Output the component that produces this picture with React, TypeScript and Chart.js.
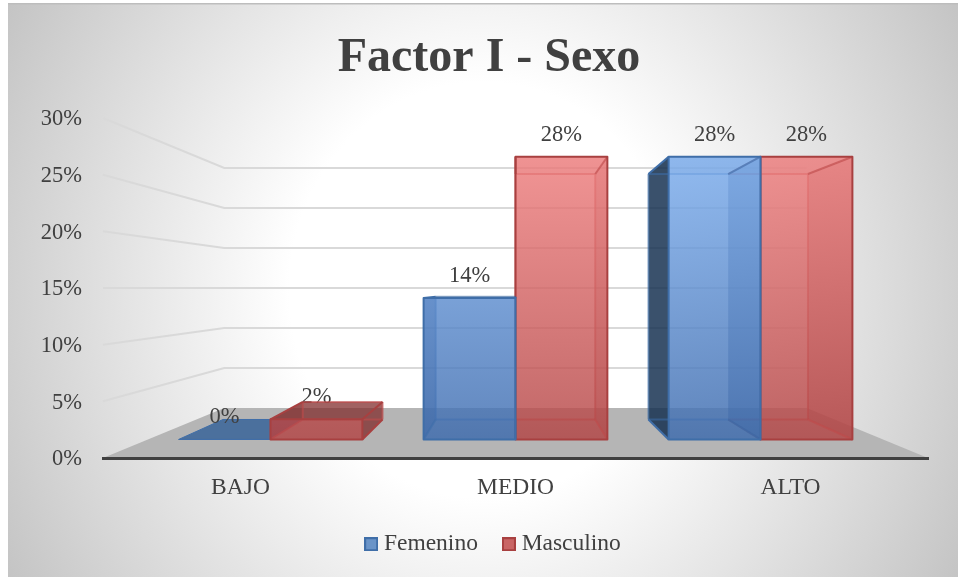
import React, { useEffect, useRef } from "react";
import { Chart, registerables } from "chart.js";

Chart.register(...registerables);

const categories = ["BAJO", "MEDIO", "ALTO"];
const femenino = [0, 14, 28];
const masculino = [2, 28, 28];
const yTicksMax = 30;
const yTickStep = 5;
const chartTitle = "Factor I - Sexo";

const FONT = "'Liberation Serif', serif";
const TEXT = "#404040";
// Perspective of the original 3-D chart: vanishing point and depth scales
const VP = { x: 515.4, y: 288 };
const WALL = 0.706;
const BAR_FRONT = 0.891;
const BAR_BACK = 0.7735;

type Look = {
  legendFill: string; edge: string; inner: string; outer: string; innerFace: string;
  frontTop: string; frontBottom: string; sideAlpha: number;
};
const looks: Look[] = [
  {
    legendFill: "#6a94c8", edge: "#3f6ea8", inner: "rgba(60,110,170,0.55)",
    outer: "rgba(20,48,80,0.84)", innerFace: "rgba(30,60,110,0.45)",
    frontTop: "rgba(122,172,237,0.82)", frontBottom: "rgba(62,108,175,0.82)", sideAlpha: 0.06,
  },
  {
    legendFill: "#c96565", edge: "#a84040", inner: "rgba(190,75,75,0.65)",
    outer: "rgba(130,45,45,0.75)", innerFace: "rgba(120,30,30,0.28)",
    frontTop: "rgba(238,125,125,0.82)", frontBottom: "rgba(180,70,70,0.82)", sideAlpha: 0.04,
  },
];

const P = (x: number, y: number, s: number): [number, number] => [
  VP.x + (x - VP.x) * s,
  VP.y + (y - VP.y) * s,
];

function poly(ctx: CanvasRenderingContext2D, pts: [number, number][], fill?: any, stroke?: string, lw = 2) {
  ctx.beginPath();
  pts.forEach((p, i) => (i ? ctx.lineTo(p[0], p[1]) : ctx.moveTo(p[0], p[1])));
  ctx.closePath();
  if (fill) {
    ctx.fillStyle = fill;
    ctx.fill();
  }
  if (stroke) {
    ctx.strokeStyle = stroke;
    ctx.lineWidth = lw;
    ctx.lineJoin = "round";
    ctx.stroke();
  }
}

function seg(ctx: CanvasRenderingContext2D, a: [number, number], b: [number, number], color: string, lw = 2) {
  ctx.beginPath();
  ctx.moveTo(a[0], a[1]);
  ctx.lineTo(b[0], b[1]);
  ctx.strokeStyle = color;
  ctx.lineWidth = lw;
  ctx.stroke();
}

function legendSwatch(fill: string, edge: string) {
  const c = document.createElement("canvas");
  c.width = 14;
  c.height = 14;
  const g = c.getContext("2d")!;
  g.fillStyle = fill;
  g.fillRect(0, 0, 14, 14);
  g.strokeStyle = edge;
  g.lineWidth = 2;
  g.strokeRect(1, 1, 12, 12);
  return c;
}

const scene = {
  id: "scene",
  afterLayout(chart: any) {
    chart.titleBlock.left = 20;
    chart.titleBlock.right = 958;
    chart.legend.left = 33;
    chart.legend.right = 958;
    chart.legend.top -= 11;
    chart.legend.bottom -= 11;
  },
  beforeDraw(chart: any) {
    const { ctx, chartArea: a, scales } = chart;
    ctx.save();
    // page background
    ctx.fillStyle = "#ffffff";
    ctx.fillRect(0, 0, chart.width, chart.height);
    ctx.save();
    ctx.beginPath();
    ctx.rect(8, 4, 950, 573);
    ctx.clip();
    ctx.translate(483, 290);
    ctx.scale(559, 600);
    const g = ctx.createRadialGradient(0, 0, 0, 0, 0, 1.05);
    g.addColorStop(0, "#ffffff");
    g.addColorStop(0.33, "#ffffff");
    g.addColorStop(0.81, "#d0d0d0");
    g.addColorStop(1, "#bdbdbd");
    ctx.fillStyle = g;
    ctx.fillRect(-2, -2, 4, 4);
    ctx.restore();
    ctx.fillStyle = "#bdbdbd";
    ctx.fillRect(8, 3, 950, 1.5);

    // floor
    const y0 = scales.y.getPixelForValue(0);
    poly(ctx, [[a.left, y0], P(a.left, y0, WALL), P(a.right, y0, WALL), [a.right, y0]], "#b5b5b5");

    // walls' gridlines
    scales.y.ticks.forEach((t: any) => {
      if (t.value === 0) return;
      const y = scales.y.getPixelForValue(t.value);
      ctx.beginPath();
      ctx.moveTo(a.left, y);
      const m = P(a.left, y, WALL);
      ctx.lineTo(m[0], m[1]);
      const e = P(a.right, y, WALL);
      ctx.lineTo(e[0], e[1]);
      ctx.strokeStyle = "#d9d9d9";
      ctx.lineWidth = 2;
      ctx.stroke();
    });
    ctx.restore();
  },
  beforeDatasetDraw() {
    return false;
  },
  afterDatasetsDraw(chart: any) {
    const { ctx, scales } = chart;
    const metas = chart.data.datasets.map((_: any, i: number) => chart.getDatasetMeta(i));
    const maxVal = Math.max(...chart.data.datasets.flatMap((d: any) => d.data));
    const topY = P(0, scales.y.getPixelForValue(maxVal), BAR_FRONT)[1];
    const botY = P(0, scales.y.getPixelForValue(0), BAR_FRONT)[1];

    const items: any[] = [];
    metas.forEach((m: any, di: number) =>
      m.data.forEach((el: any, i: number) => items.push({ el, di, i }))
    );
    items.sort((p, q) => Math.abs(q.el.x - VP.x) - Math.abs(p.el.x - VP.x));

    const label = (el: any, text: string) => {
      const f = P(el.x, el.y, BAR_FRONT);
      ctx.font = `22.5px ${FONT}`;
      ctx.fillStyle = TEXT;
      ctx.textAlign = "center";
      ctx.textBaseline = "middle";
      ctx.fillText(text, f[0], f[1] - 22);
    };

    ctx.save();
    items.forEach(({ el, di, i }) => {
      const look = looks[di];
      const text = chart.data.datasets[di].data[i] + "%";
      const l = el.x - el.width / 2;
      const r = el.x + el.width / 2;
      const fTL = P(l, el.y, BAR_FRONT), fTR = P(r, el.y, BAR_FRONT);
      const fBL = P(l, el.base, BAR_FRONT), fBR = P(r, el.base, BAR_FRONT);
      const bTL = P(l, el.y, BAR_BACK), bTR = P(r, el.y, BAR_BACK);
      const bBL = P(l, el.base, BAR_BACK), bBR = P(r, el.base, BAR_BACK);
      const h = el.base - el.y;

      if (h < 1) {
        poly(ctx, [fBL, bBL, bBR, fBR], "rgba(40,90,150,0.75)", look.edge, 1);
        label(el, text);
        return;
      }
      label(el, text);

      // neighbour in the same category hides the shared side
      const other = metas[di === 0 ? 1 : 0].data[i];
      const otherTaller = other.base - other.y >= h;
      const leftHidden = di === 1 && otherTaller;
      const rightHidden = di === 0 && otherTaller;

      // bottom and back
      poly(ctx, [fBL, bBL, bBR, fBR], "rgba(0,0,0,0.05)");

      const leftOuter = bTL[0] < fTL[0];
      const rightOuter = bTR[0] > fTR[0];
      const topOuter = bTL[1] < fTL[1];

      // faces
      if (!(leftHidden && leftOuter)) {
        poly(ctx, [fTL, bTL, bBL, fBL], leftOuter ? look.outer : look.innerFace);
      }
      if (!(rightHidden && rightOuter)) {
        poly(ctx, [fTR, bTR, bBR, fBR], rightOuter ? look.outer : look.innerFace);
      }
      poly(ctx, [fTL, bTL, bTR, fTR], topOuter ? look.outer : `rgba(0,0,0,${look.sideAlpha})`);

      // back edges
      seg(ctx, bTL, bTR, look.inner);
      seg(ctx, bBL, bBR, look.inner);
      if (!leftHidden) seg(ctx, bTL, bBL, look.inner);
      if (!rightHidden) seg(ctx, bTR, bBR, look.inner);

      // front
      const g = ctx.createLinearGradient(0, topY, 0, botY);
      g.addColorStop(0, look.frontTop);
      g.addColorStop(1, look.frontBottom);
      poly(ctx, [fTL, fTR, fBR, fBL], g);

      // connectors
      seg(ctx, fTL, bTL, leftOuter || topOuter ? look.edge : look.inner);
      seg(ctx, fTR, bTR, rightOuter || topOuter ? look.edge : look.inner);
      seg(ctx, fBL, bBL, leftOuter ? look.edge : look.inner);
      seg(ctx, fBR, bBR, rightOuter ? look.edge : look.inner);

      poly(ctx, [fTL, fTR, fBR, fBL], undefined, look.edge);
    });
    ctx.restore();
  },
};

export default function App() {
  const ref = useRef<HTMLCanvasElement>(null);
  useEffect(() => {
    const chart = new Chart(ref.current!, {
      type: "bar",
      data: {
        labels: categories,
        datasets: [
          { label: "Femenino", data: femenino, backgroundColor: looks[0].legendFill, borderColor: looks[0].edge },
          { label: "Masculino", data: masculino, backgroundColor: looks[1].legendFill, borderColor: looks[1].edge },
        ],
      },
      options: {
        responsive: false,
        animation: false,
        layout: { autoPadding: false, padding: { left: 0, right: 30, top: 0, bottom: 0 } },
        datasets: { bar: { barPercentage: 1, categoryPercentage: 0.75 } },
        scales: {
          x: {
            grid: { display: false },
            border: { display: true, color: "#404040", width: 3 },
            ticks: { color: TEXT, font: { family: FONT, size: 23.5 }, padding: 8, maxRotation: 0 },
            afterFit: (s: any) => { s.height = 55.5; },
          },
          y: {
            min: 0,
            max: yTicksMax,
            grid: { display: false },
            border: { display: false },
            ticks: {
              stepSize: yTickStep,
              color: TEXT,
              font: { family: FONT, size: 22.5 },
              padding: 13,
              labelOffset: 1.5,
              callback: (v: any) => v + "%",
            },
            afterFit: (s: any) => { s.width = 103; },
          },
        },
        plugins: {
          title: {
            display: true,
            text: chartTitle,
            color: TEXT,
            font: { family: FONT, size: 48, weight: "bold" },
            padding: { top: 29.5, bottom: 30.9 },
          },
          legend: {
            position: "bottom",
            labels: {
              color: TEXT,
              font: { family: FONT, size: 23.5 },
              padding: 30,
              usePointStyle: true,
              pointStyleWidth: 2,
              generateLabels: (c: any) =>
                (Chart.defaults as any).plugins.legend.labels
                  .generateLabels(c)
                  .map((it: any, i: number) => ({
                    ...it,
                    pointStyle: legendSwatch(looks[i].legendFill, looks[i].edge),
                  })),
            },
          },
          tooltip: { enabled: false },
        },
      } as any,
      plugins: [scene],
    });
    return () => chart.destroy();
  }, []);
  return (
    <div style={{ position: "absolute", left: 0, top: 0, width: 958, height: 577 }}>
      <canvas ref={ref} width={958} height={577} style={{ display: "block" }} />
    </div>
  );
}
